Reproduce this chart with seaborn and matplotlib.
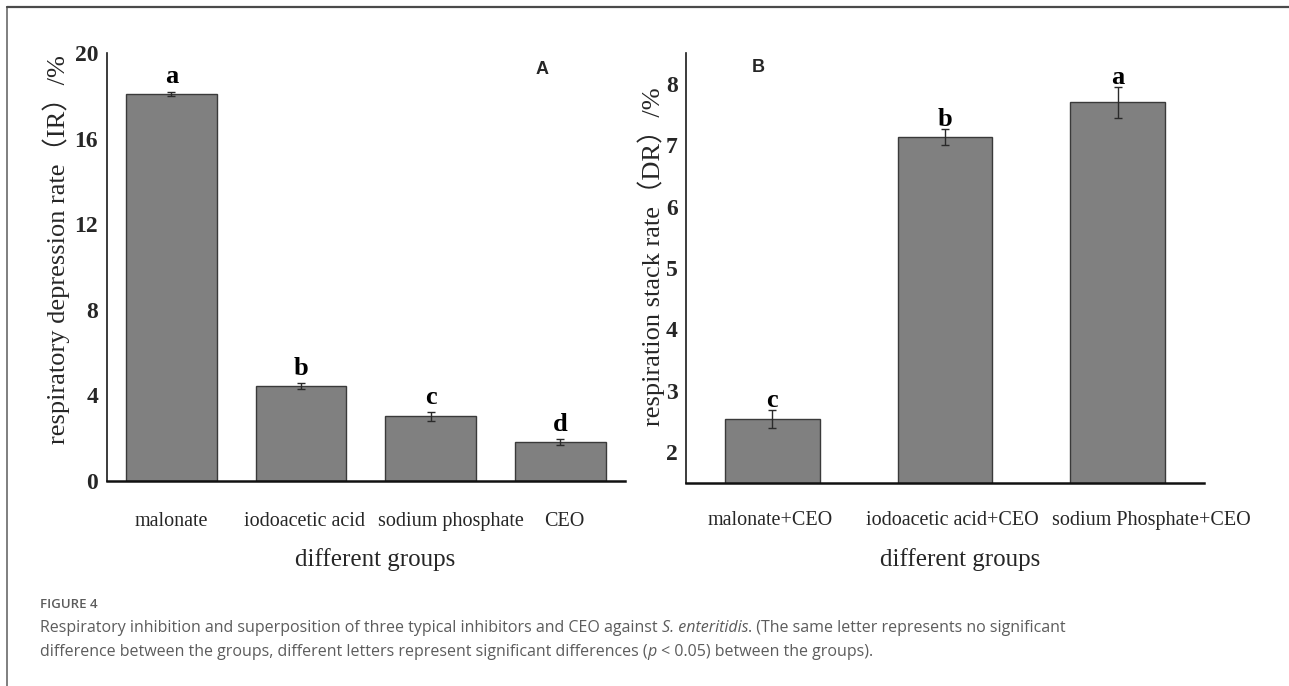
import matplotlib
matplotlib.use("Agg")
import matplotlib.pyplot as plt
import matplotlib.transforms as mtrans
import seaborn as sns
import pandas as pd
from matplotlib.lines import Line2D

# ---- data ----
groups_a = ["malonate", "iodoacetic acid", "sodium phosphate", "CEO"]
ir_values = [18.10, 4.45, 3.02, 1.82]
ir_errors = [0.10, 0.13, 0.20, 0.12]
ir_letters = ["a", "b", "c", "d"]

groups_b = ["malonate+CEO", "iodoacetic acid+CEO", "sodium Phosphate+CEO"]
dr_values = [2.54, 7.13, 7.70]
dr_errors = [0.15, 0.13, 0.25]
dr_letters = ["c", "b", "a"]

ylim_a = (0, 20)
yticks_a = [0, 4, 8, 12, 16, 20]
ylim_b = (1.5, 8.5)
yticks_b = [2, 3, 4, 5, 6, 7, 8]

sns.set_theme(style="white")
SERIF = ["Liberation Serif", "Noto Sans CJK SC", "DejaVu Serif"]
plt.rcParams["font.family"] = SERIF

W, H = 1289, 686
fig = plt.figure(figsize=(W / 100, H / 100), dpi=100)
fig.patch.set_facecolor("white")


def px_box(x0, x1, ytop, ybot):
    return [x0 / W, 1 - ybot / H, (x1 - x0) / W, (ybot - ytop) / H]


ax1 = fig.add_axes(px_box(106.5, 625, 53, 481))
ax2 = fig.add_axes(px_box(686, 1204, 53, 483))

BAR = "#808080"
EDGE = "#3a3a3a"


def draw_panel(ax, cats, vals, errs, letters, width, ylim, yticks, letter_gap,
               xpad, label_shift_px):
    df = pd.DataFrame({"group": cats, "value": vals})
    sns.barplot(data=df, x="group", y="value", color=BAR, saturation=1,
                width=width, edgecolor=EDGE, linewidth=1.0, errorbar=None, ax=ax)
    ax.errorbar(range(len(cats)), vals, yerr=errs, fmt="none",
                ecolor="#2a2a2a", elinewidth=1.0, capsize=3, capthick=1.0)
    for i, (v, e, t) in enumerate(zip(vals, errs, letters)):
        ax.annotate(t, (i, v + e), xytext=(0, letter_gap), textcoords="offset points",
                    ha="center", va="baseline", fontsize=19, fontweight="bold",
                    family=SERIF, color="black")
    ax.set_xlim(-0.5, len(cats) - 0.5)
    ax.set_ylim(*ylim)
    ax.set_yticks(yticks)
    ax.set_xlabel("")
    ax.set_ylabel("")
    ax.set_facecolor("white")
    for s in ("top", "right"):
        ax.spines[s].set_visible(False)
    ax.spines["left"].set_color("#1a1a1a")
    ax.spines["left"].set_linewidth(1.2)
    ax.spines["bottom"].set_color("#111111")
    ax.spines["bottom"].set_linewidth(1.8)
    ax.tick_params(axis="y", direction="in", length=4, width=1.0, color="#1a1a1a",
                   pad=6, labelsize=17)
    ax.tick_params(axis="x", length=0, pad=xpad, labelsize=14.5)
    for lab in ax.get_yticklabels():
        lab.set_fontweight("bold")
        lab.set_family(SERIF)
    # nudge category labels sideways so long names do not collide
    for lab, dx in zip(ax.get_xticklabels(), label_shift_px):
        lab.set_family(SERIF)
        lab.set_transform(lab.get_transform() +
                          mtrans.ScaledTranslation(dx / 100, 0, fig.dpi_scale_trans))


draw_panel(ax1, groups_a, ir_values, ir_errors, ir_letters, 0.70, ylim_a, yticks_a, 6,
           22, [0, 4, 20, 4])
draw_panel(ax2, groups_b, dr_values, dr_errors, dr_letters, 0.55, ylim_b, yticks_b, 2,
           20, [-2, 7, 34])

# axis titles
fig.text(56 / W, 1 - 250 / H, "respiratory depression rate（IR）/%", rotation=90,
         ha="center", va="center", fontsize=19, family=SERIF)
fig.text(651 / W, 1 - 257 / H, "respiration stack rate（DR）/%", rotation=90,
         ha="center", va="center", fontsize=19, family=SERIF)
fig.text(375 / W, 1 - 560 / H, "different groups", ha="center", va="center",
         fontsize=18, family=SERIF)
fig.text(960 / W, 1 - 560 / H, "different groups", ha="center", va="center",
         fontsize=18, family=SERIF)

# panel tags
fig.text(542 / W, 1 - 70 / H, "A", ha="center", va="center", fontsize=13,
         fontweight="bold", family="Liberation Sans")
fig.text(758 / W, 1 - 68 / H, "B", ha="center", va="center", fontsize=13,
         fontweight="bold", family="Liberation Sans")

# frame
fig.add_artist(Line2D([7 / W, 7 / W], [0, 1 - 7 / H], transform=fig.transFigure,
                      color="#6a6a6a", lw=1.2))
fig.add_artist(Line2D([7 / W, 1], [1 - 7 / H, 1 - 7 / H], transform=fig.transFigure,
                      color="#4a4a4a", lw=1.6))

# caption
CAP = "#5c5c5c"
CAPFONT = ["Open Sans", "DejaVu Sans"]
fig.text(40 / W, 1 - 604 / H, "FIGURE 4", ha="left", va="center", fontsize=9.5,
         family=CAPFONT, color=CAP, fontweight="semibold")

renderer = fig.canvas.get_renderer()


def text_run(x_px, y_px, parts):
    x = x_px
    for s, style in parts:
        t = fig.text(x / W, 1 - y_px / H, s, ha="left", va="center", fontsize=11.5,
                     family=CAPFONT, color=CAP, style=style)
        x = t.get_window_extent(renderer).x1


text_run(40, 628, [
    ("Respiratory inhibition and superposition of three typical inhibitors and CEO against ", "normal"),
    ("S. enteritidis", "italic"),
    (". (The same letter represents no significant", "normal"),
])
text_run(40, 652, [
    ("difference between the groups, different letters represent significant differences (", "normal"),
    ("p", "italic"),
    (" < 0.05) between the groups).", "normal"),
])

fig.savefig("out.png", dpi=100, facecolor="white")
